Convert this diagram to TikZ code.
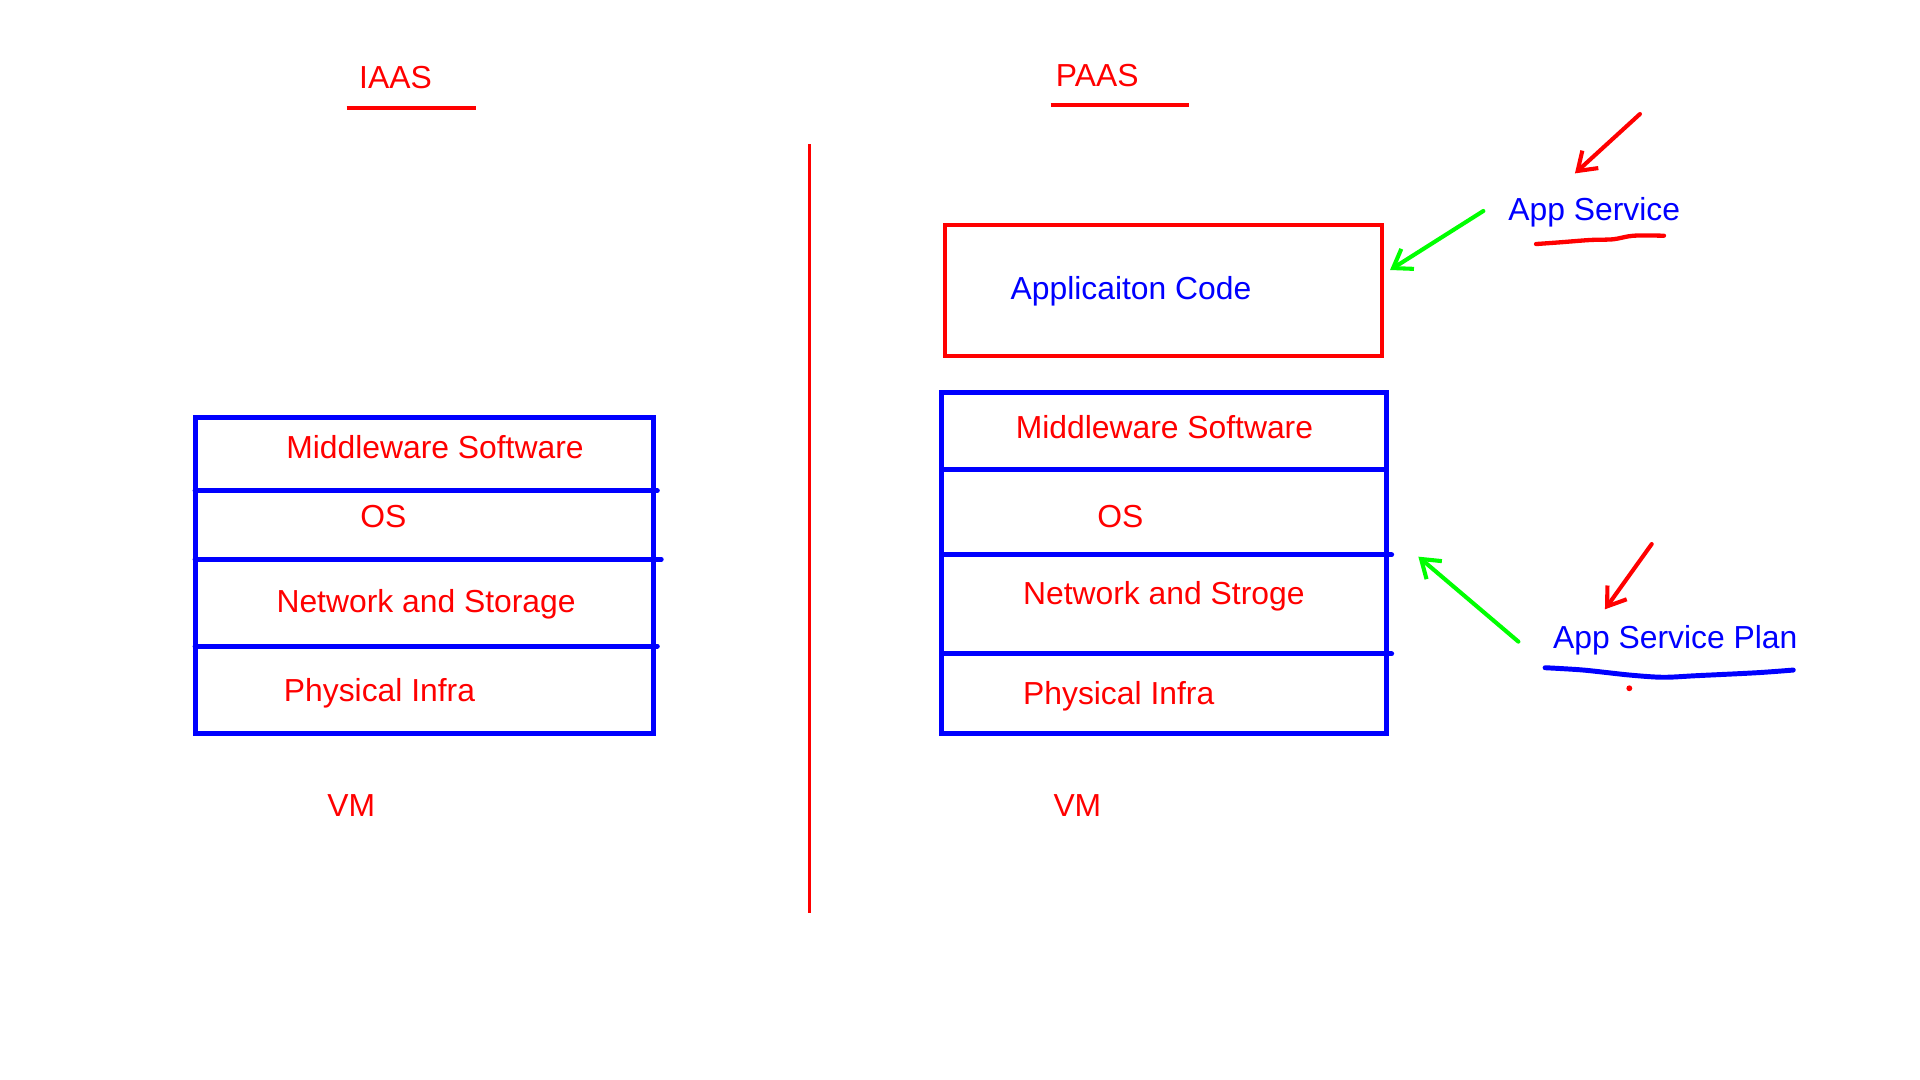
\documentclass[tikz,border=0pt]{standalone}
\usepackage{fontspec}
\setmainfont{Liberation Sans}
\usetikzlibrary{arrows.meta}
\usetikzlibrary{positioning}
\definecolor{pengreen}{RGB}{0,255,0}

\begin{document}
\begin{tikzpicture}[x=0.02cm,y=-0.02cm,
	redtxt/.style={text=red,font=\fontsize{14.8}{18}\selectfont,inner sep=0pt,anchor=base west},
	bluetxt/.style={redtxt,text=blue},
	layer/.style={blue,line width=2.3pt,line cap=round},
	pen/.style={line width=1.9pt,line cap=round,-{Straight Barb[length=8pt,width=11pt]}}]
		\useasboundingbox (0,0) rectangle (1568,882);
		%print headings
		\node[redtxt] (iaas) at (293,72.5) {IAAS};
		\node[redtxt] (paas) at (862,70.5) {PAAS};
		\draw[red,line width=2pt] (283,88)--(389,88);
		\draw[red,line width=2pt] (858,86)--(971,86);
		\draw[red,line width=1.7pt] (661,118)--(661,746);
		%iaas stack
		\draw[layer] (159.3,340.8) rectangle (533.5,598.9);
		\draw[layer] (159.3,400.7)--(536.8,400.7);
		\draw[layer] (159.3,456.8)--(540,456.8);
		\draw[layer] (159.3,527.6)--(536.8,527.6);
		\node[redtxt] (mwl) at (233.5,374.5) {Middleware Software};
		\node[redtxt] (osl) at (294,431) {OS};
		\node[redtxt] (netl) at (225.5,500.5) {Network and Storage};
		\node[redtxt] (phyl) at (231.5,572.5) {Physical Infra};
		\node[redtxt] (vml) at (267,667) {VM};
		%paas stack
		\draw[red,line width=2pt] (772,183.8) rectangle (1128.9,291);
		\node[bluetxt] (code) at (825,244.5) {Applicaiton Code};
		\draw[layer] (769,320.7) rectangle (1132,598.9);
		\draw[layer] (769,383.3)--(1132,383.3);
		\draw[layer] (769,453)--(1136.5,453);
		\draw[layer] (769,534)--(1136.5,534);
		\node[redtxt] (mwr) at (829.2,358) {Middleware Software};
		\node[redtxt] (osr) at (895.8,430.5) {OS};
		\node[redtxt] (netr) at (835.2,493.7) {Network and Stroge};
		\node[redtxt] (phyr) at (835.2,575.4) {Physical Infra};
		\node[redtxt] (vmr) at (860,666.5) {VM};
		%app service notes
		\node[bluetxt] (appsvc) at (1231.5,179.8) {App Service};
		\node[bluetxt] (appplan) at (1268,530) {App Service Plan};
		\draw[red,line width=2pt,line cap=round] plot[smooth] coordinates {(1254.4,199.3) (1274,197.9) (1298.5,196) (1317.5,195.4) (1333.9,192.5) (1358.9,192.5)};
		\draw[blue,line width=2.3pt,line cap=round] plot[smooth] coordinates {(1261.8,545.3) (1293,547.2) (1331,551.3) (1358.3,553.1) (1385.6,551.8) (1434.6,549.4) (1464.5,547.2)};
		\fill[red] (1330.6,562.1) circle (2.4);
		%arrows
		\coordinate (svcred) at (1339.3,93.1);
		\coordinate (svcredtip) at (1286.2,141.6);
		\coordinate (svcgreen) at (1211.4,172.3);
		\coordinate (codetip) at (1135.2,220.5);
		\coordinate (planred) at (1348.9,444.3);
		\coordinate (planredtip) at (1310.7,497.6);
		\coordinate (plangreen) at (1240,524);
		\coordinate (stacktip) at (1158.3,454.6);
		\draw[pen,red] (svcred)--(svcredtip);
		\draw[pen,pengreen] (svcgreen)--(codetip);
		\draw[pen,red] (planred)--(planredtip);
		\draw[pen,pengreen] (plangreen)--(stacktip);
	\end{tikzpicture}
\end{document}
